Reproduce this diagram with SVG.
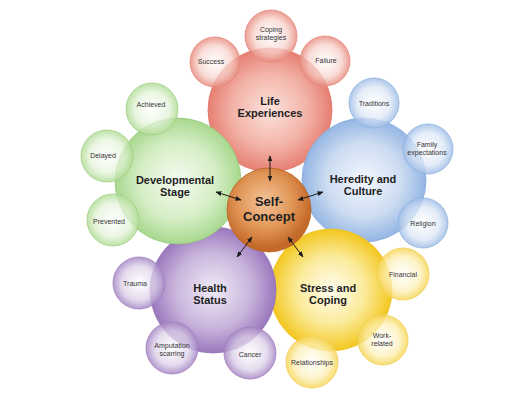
<svg xmlns="http://www.w3.org/2000/svg" width="520" height="409" viewBox="0 0 520 409">
<defs>
<radialGradient id="gR" cx="50%" cy="50%" r="50%"><stop offset="0" stop-color="#fbe3dc"/><stop offset="0.6" stop-color="#f3b3a8"/><stop offset="1" stop-color="#e67f72"/></radialGradient>
<radialGradient id="gB" cx="50%" cy="50%" r="50%"><stop offset="0" stop-color="#f3f7fd"/><stop offset="0.6" stop-color="#cddcf2"/><stop offset="1" stop-color="#94b6e3"/></radialGradient>
<radialGradient id="gG" cx="50%" cy="50%" r="50%"><stop offset="0" stop-color="#f5fbf0"/><stop offset="0.6" stop-color="#d6eec7"/><stop offset="1" stop-color="#a8d88e"/></radialGradient>
<radialGradient id="gP" cx="50%" cy="50%" r="50%"><stop offset="0" stop-color="#f1ebf6"/><stop offset="0.6" stop-color="#c9b5dc"/><stop offset="1" stop-color="#9a78bd"/></radialGradient>
<radialGradient id="gY" cx="50%" cy="50%" r="50%"><stop offset="0" stop-color="#fffdf0"/><stop offset="0.55" stop-color="#fbeb9c"/><stop offset="1" stop-color="#f3c71f"/></radialGradient>
<radialGradient id="gO" cx="45%" cy="40%" r="55%"><stop offset="0" stop-color="#f4c49a"/><stop offset="0.6" stop-color="#e09555"/><stop offset="1" stop-color="#c4692a"/></radialGradient>
<radialGradient id="sR" cx="50%" cy="50%" r="50%"><stop offset="0" stop-color="#ffffff" stop-opacity="0.7"/><stop offset="0.65" stop-color="#f7d2ca" stop-opacity="0.75"/><stop offset="1" stop-color="#e88b7f" stop-opacity="0.85"/></radialGradient>
<radialGradient id="sB" cx="50%" cy="50%" r="50%"><stop offset="0" stop-color="#ffffff" stop-opacity="0.7"/><stop offset="0.65" stop-color="#dbe6f6" stop-opacity="0.75"/><stop offset="1" stop-color="#9fbde6" stop-opacity="0.85"/></radialGradient>
<radialGradient id="sG" cx="50%" cy="50%" r="50%"><stop offset="0" stop-color="#ffffff" stop-opacity="0.7"/><stop offset="0.65" stop-color="#e3f3d8" stop-opacity="0.75"/><stop offset="1" stop-color="#b1dc97" stop-opacity="0.85"/></radialGradient>
<radialGradient id="sP" cx="50%" cy="50%" r="50%"><stop offset="0" stop-color="#ffffff" stop-opacity="0.7"/><stop offset="0.65" stop-color="#dccfe8" stop-opacity="0.75"/><stop offset="1" stop-color="#a586c4" stop-opacity="0.85"/></radialGradient>
<radialGradient id="sY" cx="50%" cy="50%" r="50%"><stop offset="0" stop-color="#ffffff" stop-opacity="0.7"/><stop offset="0.65" stop-color="#fdf0b8" stop-opacity="0.75"/><stop offset="1" stop-color="#f6d557" stop-opacity="0.85"/></radialGradient>
<marker id="ah" viewBox="0 0 10 10" refX="9" refY="5" markerWidth="6" markerHeight="6" markerUnits="userSpaceOnUse" orient="auto-start-reverse"><path d="M0,1 L10,5 L0,9 z" fill="#1a1a1a"/></marker>
</defs>
<style>
.big{stroke-width:0.8}
.sm{stroke-width:0.8}
.t{font-family:"Liberation Sans",Arial,sans-serif;font-weight:bold;font-size:11px;fill:#1f1f1f;text-anchor:middle}
.s{font-family:"Liberation Sans",Arial,sans-serif;font-size:7px;fill:#333;text-anchor:middle}
.c{font-family:"Liberation Sans",Arial,sans-serif;font-weight:bold;font-size:13px;fill:#1f1f1f;text-anchor:middle}
.a{stroke:#1a1a1a;stroke-width:1;fill:none;marker-start:url(#ah);marker-end:url(#ah)}
</style>
<rect width="520" height="409" fill="#ffffff"/>
<g id="life-experiences">
<circle class="big" cx="270" cy="110" r="62" fill="url(#gR)" stroke="#de7468"/>
<text class="t" x="270" y="105">Life</text><text class="t" x="270" y="117">Experiences</text>
</g>
<g id="heredity-culture">
<circle class="big" cx="364" cy="180" r="62" fill="url(#gB)" stroke="#86a9d9"/>
<text class="t" x="363" y="183">Heredity and</text><text class="t" x="363" y="195">Culture</text>
</g>
<g id="stress-coping">
<circle class="big" cx="331" cy="290" r="61" fill="url(#gY)" stroke="#eec21c"/>
<text class="t" x="328" y="292">Stress and</text><text class="t" x="328" y="304">Coping</text>
</g>
<g id="health-status">
<circle class="big" cx="213" cy="290" r="63" fill="url(#gP)" stroke="#9373b5"/>
<text class="t" x="210" y="292">Health</text><text class="t" x="210" y="304">Status</text>
</g>
<g id="developmental-stage">
<circle class="big" cx="178" cy="181" r="63" fill="url(#gG)" stroke="#95c87a"/>
<text class="t" x="175" y="184">Developmental</text><text class="t" x="175" y="196">Stage</text>
</g>
<g id="coping-strategies"><circle class="sm" cx="271" cy="36" r="26" fill="url(#sR)" stroke="#e48a7f"/><text class="s" x="271" y="32">Coping</text><text class="s" x="271" y="40">strategies</text></g>
<g id="success"><circle class="sm" cx="215" cy="62" r="25" fill="url(#sR)" stroke="#e48a7f"/><text class="s" x="211" y="64">Success</text></g>
<g id="failure"><circle class="sm" cx="325" cy="61" r="25" fill="url(#sR)" stroke="#e48a7f"/><text class="s" x="326" y="63">Failure</text></g>
<g id="traditions"><circle class="sm" cx="374" cy="103" r="25" fill="url(#sB)" stroke="#91b2df"/><text class="s" x="374" y="106">Traditions</text></g>
<g id="family-expectations"><circle class="sm" cx="428" cy="149" r="25" fill="url(#sB)" stroke="#91b2df"/><text class="s" x="427" y="147">Family</text><text class="s" x="427" y="155">expectations</text></g>
<g id="religion"><circle class="sm" cx="423" cy="223" r="25" fill="url(#sB)" stroke="#91b2df"/><text class="s" x="423" y="226">Religion</text></g>
<g id="achieved"><circle class="sm" cx="152" cy="109" r="26" fill="url(#sG)" stroke="#9fcf85"/><text class="s" x="151" y="107">Achieved</text></g>
<g id="delayed"><circle class="sm" cx="107" cy="156" r="26" fill="url(#sG)" stroke="#9fcf85"/><text class="s" x="103" y="158">Delayed</text></g>
<g id="prevented"><circle class="sm" cx="113" cy="220" r="26" fill="url(#sG)" stroke="#9fcf85"/><text class="s" x="109" y="224">Prevented</text></g>
<g id="trauma"><circle class="sm" cx="139" cy="283" r="26" fill="url(#sP)" stroke="#a283c2"/><text class="s" x="135" y="286">Trauma</text></g>
<g id="amputation-scarring"><circle class="sm" cx="172" cy="348" r="26" fill="url(#sP)" stroke="#a283c2"/><text class="s" x="172" y="348">Amputation</text><text class="s" x="172" y="356">scarring</text></g>
<g id="cancer"><circle class="sm" cx="250" cy="353" r="26" fill="url(#sP)" stroke="#a283c2"/><text class="s" x="250" y="357">Cancer</text></g>
<g id="financial"><circle class="sm" cx="403" cy="274" r="26" fill="url(#sY)" stroke="#f1d158"/><text class="s" x="403" y="277">Financial</text></g>
<g id="work-related"><circle class="sm" cx="383" cy="340" r="25" fill="url(#sY)" stroke="#f1d158"/><text class="s" x="382" y="338">Work-</text><text class="s" x="382" y="346">related</text></g>
<g id="relationships"><circle class="sm" cx="312" cy="362" r="26" fill="url(#sY)" stroke="#f1d158"/><text class="s" x="312" y="365">Relationships</text></g>
<g id="self-concept">
<circle cx="269" cy="210" r="42" fill="url(#gO)" stroke="#b9611f" stroke-width="0.8"/>
<text class="c" x="269" y="206">Self-</text><text class="c" x="269" y="221">Concept</text>
</g>
<g id="connectors">
<line class="a" x1="270" y1="156" x2="270" y2="181"/>
<line class="a" x1="216" y1="192" x2="241" y2="200"/>
<line class="a" x1="298" y1="200" x2="323" y2="192"/>
<line class="a" x1="252" y1="237" x2="237" y2="257"/>
<line class="a" x1="288" y1="237" x2="303" y2="257"/>
</g>
</svg>
